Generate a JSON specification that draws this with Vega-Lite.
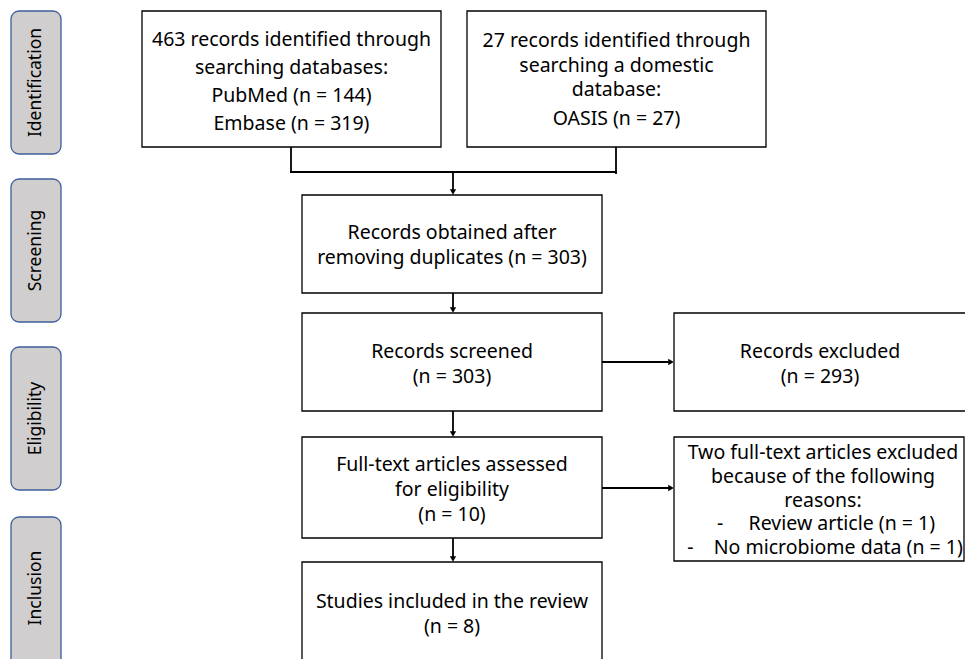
{
  "$schema": "https://vega.github.io/schema/vega-lite/v6.json",
  "width": 965,
  "height": 659,
  "padding": 0,
  "autosize": {"type": "fit", "contains": "padding"},
  "background": "white",
  "config": {"view": {"stroke": null}},
  "datasets": {
    "stages": [
      {"stage": "Identification", "x": 11, "x2": 61, "y": 11, "y2": 154},
      {"stage": "Screening", "x": 11, "x2": 61, "y": 179, "y2": 322},
      {"stage": "Eligibility", "x": 11, "x2": 61, "y": 347, "y2": 490},
      {"stage": "Inclusion", "x": 11, "x2": 61, "y": 517, "y2": 680}
    ],
    "boxes": [
      {"id": "db", "x": 142, "x2": 441, "y": 11, "y2": 147},
      {"id": "domestic", "x": 467, "x2": 766, "y": 11, "y2": 147},
      {"id": "dedup", "x": 302, "x2": 602, "y": 195, "y2": 293},
      {"id": "screened", "x": 302, "x2": 602, "y": 313, "y2": 411},
      {"id": "excluded", "x": 674, "x2": 975, "y": 313, "y2": 411},
      {"id": "fulltext", "x": 302, "x2": 602, "y": 437, "y2": 538},
      {"id": "ftexcluded", "x": 674, "x2": 964, "y": 437, "y2": 561},
      {"id": "included", "x": 302, "x2": 602, "y": 562, "y2": 680}
    ],
    "edges": [
      {"x": 291, "y": 147, "x2": 291, "y2": 172},
      {"x": 290, "y": 172, "x2": 617, "y2": 172},
      {"x": 616, "y": 147, "x2": 616, "y2": 174},
      {"x": 453, "y": 172, "x2": 453, "y2": 192},
      {"x": 453, "y": 293, "x2": 453, "y2": 310},
      {"x": 602, "y": 362, "x2": 671, "y2": 362},
      {"x": 453, "y": 411, "x2": 453, "y2": 434},
      {"x": 602, "y": 488, "x2": 671, "y2": 488},
      {"x": 453, "y": 538, "x2": 453, "y2": 559}
    ],
    "heads": [
      {"x": 453, "y": 195, "dir": "down"},
      {"x": 453, "y": 313, "dir": "down"},
      {"x": 453, "y": 437, "dir": "down"},
      {"x": 453, "y": 562, "dir": "down"},
      {"x": 674, "y": 362, "dir": "right"},
      {"x": 674, "y": 488, "dir": "right"}
    ],
    "texts": [
      {"x": 291.5, "y": 40, "text": "463 records identified through"},
      {"x": 291.5, "y": 68, "text": "searching databases:"},
      {"x": 291.5, "y": 96, "text": "PubMed (n = 144)"},
      {"x": 291.5, "y": 124, "text": "Embase (n = 319)"},
      {"x": 616.5, "y": 41, "text": "27 records identified through"},
      {"x": 616.5, "y": 66, "text": "searching a domestic"},
      {"x": 616.5, "y": 90, "text": "database:"},
      {"x": 616.5, "y": 119, "text": "OASIS (n = 27)"},
      {"x": 452, "y": 233, "text": "Records obtained after"},
      {"x": 452, "y": 258, "text": "removing duplicates (n = 303)"},
      {"x": 452, "y": 352, "text": "Records screened"},
      {"x": 452, "y": 377, "text": "(n = 303)"},
      {"x": 820, "y": 352, "text": "Records excluded"},
      {"x": 820, "y": 377, "text": "(n = 293)"},
      {"x": 452, "y": 465, "text": "Full-text articles assessed"},
      {"x": 452, "y": 490, "text": "for eligibility"},
      {"x": 452, "y": 515, "text": "(n = 10)"},
      {"x": 823, "y": 453, "text": "Two full-text articles excluded"},
      {"x": 823, "y": 477, "text": "because of the following"},
      {"x": 823, "y": 501, "text": "reasons:"},
      {"x": 826, "y": 524, "text": "-\u00a0\u00a0\u00a0\u00a0\u00a0Review article (n = 1)"},
      {"x": 825, "y": 548, "text": "-\u00a0\u00a0\u00a0\u00a0No microbiome data (n = 1)"},
      {"x": 452, "y": 602, "text": "Studies included in the review"},
      {"x": 452, "y": 627, "text": "(n = 8)"}
    ]
  },
  "layer": [
    {
      "data": {"name": "stages"},
      "mark": {"type": "rect", "cornerRadius": 8, "fill": "#D0CECE", "stroke": "#3B5E9A", "strokeWidth": 1.3, "clip": true},
      "encoding": {
        "x": {"field": "x", "type": "quantitative", "scale": {"domain": [0, 965], "nice": false, "zero": false}, "axis": null},
        "x2": {"field": "x2"},
        "y": {"field": "y", "type": "quantitative", "scale": {"domain": [0, 659], "nice": false, "zero": false, "reverse": true}, "axis": null},
        "y2": {"field": "y2"}
      }
    },
    {
      "data": {"name": "stages"},
      "transform": [
        {"calculate": "(datum.x + datum.x2) / 2", "as": "cx"},
        {"calculate": "(datum.y + min(datum.y2, 659)) / 2", "as": "cy"}
      ],
      "mark": {"type": "text", "angle": 270, "font": "Noto Sans", "fontSize": 17.5, "color": "#000000", "align": "center", "baseline": "middle"},
      "encoding": {
        "x": {"field": "cx", "type": "quantitative", "scale": {"domain": [0, 965], "nice": false, "zero": false}, "axis": null},
        "y": {"field": "cy", "type": "quantitative", "scale": {"domain": [0, 659], "nice": false, "zero": false, "reverse": true}, "axis": null},
        "text": {"field": "stage"}
      }
    },
    {
      "data": {"name": "boxes"},
      "mark": {"type": "rect", "fill": "#ffffff", "stroke": "#000000", "strokeWidth": 1.3, "clip": true},
      "encoding": {
        "x": {"field": "x", "type": "quantitative", "scale": {"domain": [0, 965], "nice": false, "zero": false}, "axis": null},
        "x2": {"field": "x2"},
        "y": {"field": "y", "type": "quantitative", "scale": {"domain": [0, 659], "nice": false, "zero": false, "reverse": true}, "axis": null},
        "y2": {"field": "y2"}
      }
    },
    {
      "data": {"name": "edges"},
      "mark": {"type": "rule", "color": "#000000", "strokeWidth": 1.8},
      "encoding": {
        "x": {"field": "x", "type": "quantitative", "scale": {"domain": [0, 965], "nice": false, "zero": false}, "axis": null},
        "x2": {"field": "x2"},
        "y": {"field": "y", "type": "quantitative", "scale": {"domain": [0, 659], "nice": false, "zero": false, "reverse": true}, "axis": null},
        "y2": {"field": "y2"}
      }
    },
    {
      "data": {"name": "heads"},
      "transform": [{"filter": "datum.dir == 'down'"}],
      "mark": {"type": "point", "shape": "triangle-down", "filled": true, "color": "#000000", "size": 40, "opacity": 1, "yOffset": -3},
      "encoding": {
        "x": {"field": "x", "type": "quantitative", "scale": {"domain": [0, 965], "nice": false, "zero": false}, "axis": null},
        "y": {"field": "y", "type": "quantitative", "scale": {"domain": [0, 659], "nice": false, "zero": false, "reverse": true}, "axis": null}
      }
    },
    {
      "data": {"name": "heads"},
      "transform": [{"filter": "datum.dir == 'right'"}],
      "mark": {"type": "point", "shape": "triangle-right", "filled": true, "color": "#000000", "size": 40, "opacity": 1, "xOffset": -3},
      "encoding": {
        "x": {"field": "x", "type": "quantitative", "scale": {"domain": [0, 965], "nice": false, "zero": false}, "axis": null},
        "y": {"field": "y", "type": "quantitative", "scale": {"domain": [0, 659], "nice": false, "zero": false, "reverse": true}, "axis": null}
      }
    },
    {
      "data": {"name": "texts"},
      "mark": {"type": "text", "font": "Noto Sans", "fontSize": 19.5, "color": "#000000", "align": "center", "baseline": "middle"},
      "encoding": {
        "x": {"field": "x", "type": "quantitative", "scale": {"domain": [0, 965], "nice": false, "zero": false}, "axis": null},
        "y": {"field": "y", "type": "quantitative", "scale": {"domain": [0, 659], "nice": false, "zero": false, "reverse": true}, "axis": null},
        "text": {"field": "text"}
      }
    }
  ]
}
